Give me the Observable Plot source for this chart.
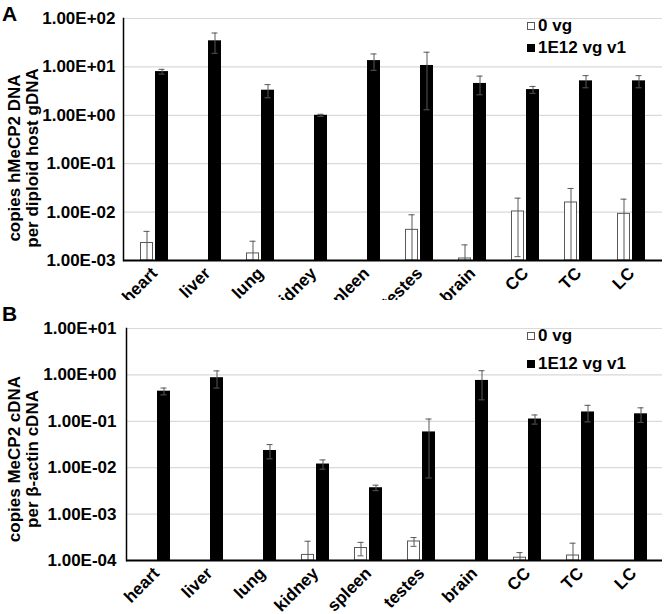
<!DOCTYPE html>
<html>
<head>
<meta charset="utf-8">
<script src="https://cdn.jsdelivr.net/npm/d3@7"></script>
<script src="https://cdn.jsdelivr.net/npm/@observablehq/plot@0.6"></script>
<style>
  body { margin: 0; background: white; }
  #root { position: relative; width: 664px; height: 614px; font-family: "Liberation Sans", Arial, sans-serif; }
  .panel { position: absolute; left: 0; }
  .panel svg { overflow: visible; }
  .letter { position: absolute; font-weight: bold; font-size: 21px; line-height: 1; }
  .leg { position: absolute; font-weight: bold; font-size: 17px; line-height: 1; display: flex; align-items: center; }
  .sw { display: inline-block; width: 8px; height: 8px; margin-right: 3px; box-sizing: border-box; }
  .ylab { position: absolute; width: 0; height: 0; }
  .ylab span { position: absolute; left: 0; top: 0; transform: translate(-50%, -50%) rotate(-90deg); white-space: pre; text-align: center; font-weight: bold; font-size: 17px; line-height: 18px; }
</style>
</head>
<body>
<div id="root"></div>
<script>
const categories = ["heart","liver","lung","kidney","spleen","testes","brain","CC","TC","LC"];
const seriesNames = ["0 vg","1E12 vg v1"];

// Panel A: copies hMeCP2 DNA per diploid host gDNA
const aZero     = [0.0023, null, 0.0014, null, null, 0.0043, 0.0011, 0.0103, 0.0158, 0.0092];
const aZeroErr  = [0.0017, null, 0.0011, null, null, 0.0045, 0.0010, 0.0091, 0.0150, 0.0093];
const aHigh     = [8.0, 34.6, 3.3, 1.0, 13.5, 10.7, 4.55, 3.4, 5.15, 5.15];
const aHighErr  = [0.9, 15.5, 1.0, 0.05, 5.0, 9.4, 1.9, 0.55, 1.45, 1.45];
const aTicks      = [1e-3, 1e-2, 1e-1, 1e0, 1e1, 1e2];
const aTickLabels = ["1.00E-03","1.00E-02","1.00E-01","1.00E+00","1.00E+01","1.00E+02"];
const aYLabel = "copies hMeCP2 DNA\nper diploid host gDNA";

// Panel B: copies MeCP2 cDNA per beta-actin cDNA
const bZero     = [null, null, null, 0.000132, 0.000186, 0.000257, null, 0.000115, 0.000128, null];
const bZeroErr  = [null, null, null, 0.000128, 0.000060, 0.000055, null, 0.000033, 0.000108, null];
const bHigh     = [0.446, 0.87, 0.0235, 0.012, 0.0037, 0.059, 0.76, 0.112, 0.159, 0.145];
const bHighErr  = [0.075, 0.35, 0.008, 0.0027, 0.0005, 0.053, 0.47, 0.025, 0.062, 0.05];
const bTicks      = [1e-4, 1e-3, 1e-2, 1e-1, 1e0, 1e1];
const bTickLabels = ["1.00E-04","1.00E-03","1.00E-02","1.00E-01","1.00E+00","1.00E+01"];
const bYLabel = "copies MeCP2 cDNA\nper β-actin cDNA";

const errColor = "#595959";

function makePanel(o) {
  const yMin = o.ticks[0], yMax = o.ticks[o.ticks.length - 1];
  const labelOf = new Map(o.ticks.map((t, i) => [t, o.tickLabels[i]]));
  const rows = categories.flatMap((c, i) => [
    {cat: c, s: seriesNames[0], v: o.zero[i], e: o.zeroErr[i]},
    {cat: c, s: seriesNames[1], v: o.high[i], e: o.highErr[i]}
  ]).filter(d => d.v != null);
  const r0 = rows.filter(d => d.s === seriesNames[0]);
  const r1 = rows.filter(d => d.s === seriesNames[1]);
  const lo = d => Math.max(d.v - d.e, yMin);
  const hi = d => d.v + d.e;
  const hasLo = d => d.v - d.e > yMin;
  return Plot.plot({
    width: 664,
    height: o.height,
    marginTop: o.marginTop,
    marginBottom: o.marginBottom,
    marginLeft: o.marginLeft,
    marginRight: 2,
    style: {fontFamily: "Liberation Sans, Arial, sans-serif", background: "white", overflow: "visible"},
    x: {type: "band", domain: categories, paddingInner: 0.48, paddingOuter: 0.24, label: null},
    y: {type: "log", domain: [yMin, yMax], label: null},
    marks: [
      Plot.gridY(o.ticks, {stroke: "#d9d9d9", strokeOpacity: 1, strokeWidth: 1.2}),
      Plot.barY(r0, {x: "cat", y1: yMin, y2: "v", fill: "white", stroke: errColor, strokeWidth: 1, insetLeft: 0.5, insetRight: 15.5}),
      Plot.barY(r1, {x: "cat", y1: yMin, y2: "v", fill: "black", insetLeft: 15, insetRight: 0}),
      Plot.ruleX(r0, {x: "cat", y1: lo, y2: hi, dx: -7.5, stroke: errColor, strokeWidth: 1}),
      Plot.ruleX(r1, {x: "cat", y1: lo, y2: hi, dx: 7.5, stroke: errColor, strokeWidth: 1}),
      Plot.tickY(r0, {x: "cat", y: hi, insetLeft: 3.5, insetRight: 18.5, stroke: errColor}),
      Plot.tickY(r0.filter(hasLo), {x: "cat", y: lo, insetLeft: 3.5, insetRight: 18.5, stroke: errColor}),
      Plot.tickY(r1, {x: "cat", y: hi, insetLeft: 18.5, insetRight: 3.5, stroke: errColor}),
      Plot.tickY(r1.filter(hasLo), {x: "cat", y: lo, insetLeft: 18.5, insetRight: 3.5, stroke: errColor}),
      Plot.frame({anchor: "left", stroke: "black", strokeWidth: 1.5}),
      Plot.ruleY([yMin], {stroke: "black", strokeWidth: 2}),
      Plot.axisY(o.ticks, {tickFormat: d => labelOf.get(d), tickSize: 0, tickPadding: o.tickPadding, fontSize: 17, fontWeight: "bold", fill: "black", label: null}),
      Plot.axisX({tickSize: 0, tickPadding: 10, tickRotate: -45, fontSize: 17, fontWeight: "bold", fill: "black", label: null})
    ]
  });
}

const root = document.getElementById("root");

function addPanel(top, chart) {
  const d = document.createElement("div");
  d.className = "panel";
  d.style.top = top + "px";
  d.appendChild(chart);
  root.appendChild(d);
}

addPanel(0, makePanel({
  zero: aZero, zeroErr: aZeroErr, high: aHigh, highErr: aHighErr,
  ticks: aTicks, tickLabels: aTickLabels,
  height: 300, marginTop: 18, marginBottom: 40, marginLeft: 123, tickPadding: 8
}));
addPanel(300, makePanel({
  zero: bZero, zeroErr: bZeroErr, high: bHigh, highErr: bHighErr,
  ticks: bTicks, tickLabels: bTickLabels,
  height: 314, marginTop: 28, marginBottom: 54, marginLeft: 126, tickPadding: 10
}));

function addYLabel(text, cx, cy) {
  const d = document.createElement("div");
  d.className = "ylab";
  d.style.left = cx + "px";
  d.style.top = cy + "px";
  const s = document.createElement("span");
  s.textContent = text;
  d.appendChild(s);
  root.appendChild(d);
}
addYLabel(aYLabel, 24, 158);
addYLabel(bYLabel, 24, 459);

function addText(cls, text, left, top) {
  const d = document.createElement("div");
  d.className = cls;
  d.style.left = left + "px";
  d.style.top = top + "px";
  d.textContent = text;
  root.appendChild(d);
}
addText("letter", "A", 2, 3);
addText("letter", "B", 2, 303);

function addLegend(top1, top2) {
  [[seriesNames[0], "white", top1], [seriesNames[1], "black", top2]].forEach(([name, fill, top]) => {
    const d = document.createElement("div");
    d.className = "leg";
    d.style.left = "527px";
    d.style.top = top + "px";
    const sw = document.createElement("span");
    sw.className = "sw";
    sw.style.background = fill;
    sw.style.border = "1px solid " + (fill === "white" ? "#595959" : "black");
    d.appendChild(sw);
    d.appendChild(document.createTextNode(name));
    root.appendChild(d);
  });
}
addLegend(17, 39);
addLegend(327, 355);
</script>
</body>
</html>
